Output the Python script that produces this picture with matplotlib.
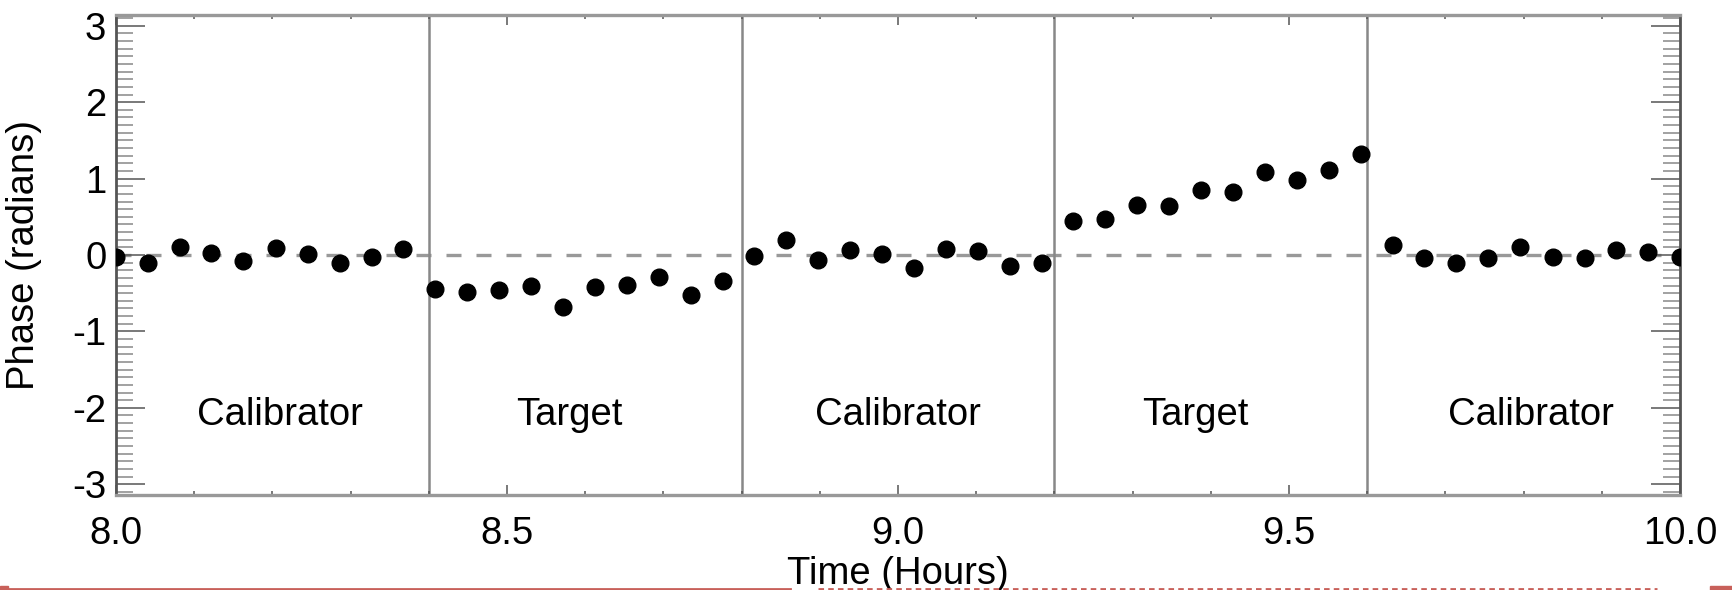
import matplotlib
matplotlib.use("Agg")
import matplotlib.pyplot as plt
from matplotlib.lines import Line2D
from matplotlib.patches import Rectangle
from matplotlib.ticker import MultipleLocator, FormatStrFormatter
import numpy as np

# time of each scan (hours)
time_hours = [8.000, 8.041, 8.082, 8.122, 8.163, 8.204, 8.245, 8.286, 8.327, 8.367,
              8.408, 8.449, 8.490, 8.531, 8.571, 8.612, 8.653, 8.694, 8.735, 8.776,
              8.816, 8.857, 8.898, 8.939, 8.980, 9.020, 9.061, 9.102, 9.143, 9.184,
              9.224, 9.265, 9.306, 9.347, 9.388, 9.429, 9.469, 9.510, 9.551, 9.592,
              9.633, 9.673, 9.714, 9.755, 9.796, 9.837, 9.878, 9.918, 9.959, 10.000]

# measured phase (radians)
phase = [-0.03, -0.10, 0.10, 0.03, -0.08, 0.09, 0.01, -0.10, -0.03, 0.08,
         -0.44, -0.49, -0.46, -0.40, -0.68, -0.42, -0.39, -0.29, -0.53, -0.34,
         -0.01, 0.19, -0.06, 0.07, 0.01, -0.17, 0.08, 0.05, -0.14, -0.10,
         0.44, 0.47, 0.66, 0.64, 0.85, 0.83, 1.09, 0.98, 1.11, 1.32,
         0.13, -0.04, -0.11, -0.04, 0.10, -0.02, -0.04, 0.07, 0.04, -0.03]

switch_times = [8.4, 8.8, 9.2, 9.6]
region_names = ["Calibrator", "Target", "Calibrator", "Target", "Calibrator"]
region_centers = [8.21, 8.58, 9.0, 9.38, 9.81]

FS = 27.5

plt.rcParams['font.family'] = ['Liberation Sans', 'DejaVu Sans']
plt.rcParams['axes.unicode_minus'] = False

fig = plt.figure(figsize=(17.32, 5.90), dpi=100)
ax = fig.add_axes([116/1732, 1 - 495/590, 1564/1732, 480/590])

ax.axhline(0, color='#999999', lw=2.4, ls=(0, (4.5, 4.5)), zorder=1)
for t in switch_times:
    ax.axvline(t, color='#888888', lw=1.8, zorder=1)
ax.plot(time_hours, phase, 'o', color='black', ms=12, zorder=3)

for name, xc in zip(region_names, region_centers):
    ax.text(xc, -2.22, name, ha='center', va='baseline', fontsize=FS)

ax.set_xlim(8.0, 10.0)
ax.set_ylim(-np.pi, np.pi)
ax.xaxis.set_major_locator(MultipleLocator(0.5))
ax.xaxis.set_minor_locator(MultipleLocator(0.1))
ax.xaxis.set_major_formatter(FormatStrFormatter('%.1f'))
ax.yaxis.set_major_locator(MultipleLocator(1))
ax.yaxis.set_minor_locator(MultipleLocator(0.1))

ax.tick_params(axis='both', which='both', direction='in', top=True, right=True,
               color='#555555', labelsize=FS)
ax.tick_params(axis='y', which='major', length=21, width=1.1, pad=7)
ax.tick_params(axis='y', which='minor', length=12, width=1.1, color='#888888')
ax.tick_params(axis='x', which='major', length=7, width=1.1, pad=15)
ax.tick_params(axis='x', which='minor', length=3, width=1.1)

for side in ['left', 'right']:
    ax.spines[side].set_color('#555555')
    ax.spines[side].set_linewidth(2.0)
for side in ['top', 'bottom']:
    ax.spines[side].set_color('#999999')
    ax.spines[side].set_linewidth(2.4)

ax.set_ylabel('Phase (radians)', fontsize=FS)
ax.yaxis.set_label_coords(-0.047, 0.5)
ax.set_xlabel('Time (Hours)', fontsize=FS)
ax.xaxis.set_label_coords(0.5, -0.128)

# red rule of the page edge below the chart
red = '#c8605a'
fig.add_artist(Line2D([0, 790/1732], [1.5/590, 1.5/590], color=red, lw=2))
fig.add_artist(Line2D([818/1732, 1657/1732], [1.5/590, 1.5/590], color=red, lw=2,
                      ls=(0, (2, 1.5))))
fig.add_artist(Rectangle((0, 0), 8/1732, 4/590, color=red, transform=fig.transFigure))
fig.add_artist(Rectangle((1710/1732, 0), 22/1732, 4/590, color=red,
                         transform=fig.transFigure))

fig.savefig('out.png', dpi=100)
